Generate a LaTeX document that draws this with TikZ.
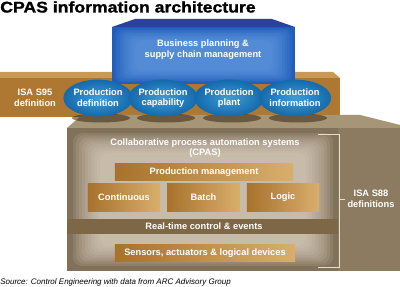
\documentclass[tikz,border=0pt]{standalone}
\usepackage{fontspec}
\setmainfont{Liberation Sans}
\newfontfamily\heavyfont[FakeStretch=1.14,FakeBold=1.3]{Liberation Sans}
\usepackage{xcolor}
\usepackage{tikz}
\usetikzlibrary{positioning,shapes.geometric}

\definecolor{bluetop}{HTML}{2C409E}
\definecolor{bluefront}{HTML}{1F5DBA}
\definecolor{blueglow}{HTML}{6FA4E6}
\definecolor{ellin}{HTML}{3F9BD6}
\definecolor{ellout}{HTML}{146AAC}
\definecolor{s95top}{HTML}{C99A55}
\definecolor{s95front}{HTML}{AE7832}
\definecolor{taupetop}{HTML}{A69576}
\definecolor{taupefront}{HTML}{8C7B61}
\definecolor{taupeglow}{HTML}{E2D8C8}
\definecolor{goldL}{HTML}{A8722C}
\definecolor{goldR}{HTML}{D9AE6C}
\definecolor{rtband}{HTML}{7E6747}
\definecolor{brkline}{HTML}{E6DECF}

\begin{document}
\begin{tikzpicture}[x=0.025cm,y=-0.025cm,
  lbl/.style={font=\fontsize{6.6}{7.6}\selectfont\bfseries,
    text=white,align=center,inner sep=0pt},
  ell/.style={ellipse,inner sep=0pt,minimum width=1.66cm,minimum height=0.92cm,
    inner color=ellin,outer color=ellout,lbl},
  bar/.style={left color=goldL,right color=goldR,inner sep=0pt,lbl},
  brk/.style={brkline,line width=0.6pt}
]
\useasboundingbox (0,0) rectangle (400,287);
\fill[white] (0,0) rectangle (400,287);

\node[anchor=base west,inner sep=0pt,font=\heavyfont\fontsize{11}{13}\selectfont\bfseries]
  (title) at (0,12.5) {CPAS information architecture};

% ISA S95 slab
\fill[s95top] (0,72) -- (333,72) -- (340,78) -- (0,78) -- cycle;
\fill[s95front] (0,78) rectangle (340,117);
\node[lbl] (s95) at (35,98) {ISA S95\\definition};

% business block
\fill[bluetop] (112,27) -- (135,19) -- (272,19) -- (295,27) -- cycle;
\fill[bluefront] (112,27) rectangle (295,84);
\foreach \i in {1,...,9}
  \fill[blueglow,opacity=0.12,rounded corners=5]
    (112+\i*2.6,27+\i*1.5) rectangle (295-\i*2.6,84-\i*1.5);
\node[lbl] (bus) at (203,49.5) {Business planning \&\\supply chain management};

% CPAS block
\fill[taupetop] (67,128) -- (82,115) -- (360,115) -- (400,125) -- (400,128) -- cycle;
\fill[taupefront] (67,128) rectangle (400,271);
\fill[taupefront!92!black] (67,128) rectangle (338,271);
\foreach \i in {1,...,10}
  \fill[taupeglow,opacity=0.13,rounded corners=6]
    (70+\i*3,131+\i*2.2) rectangle (336-\i*3,268-\i*2.2);
\fill[rtband] (67,219) rectangle (338,234);

% shadows and ellipses
\foreach \x in {98,163,229,295}
  \fill[black!70!brown,opacity=0.55] (\x+3,118) ellipse (29 and 4.5);
\node[ell] (pdef) at (98,98)  {Production\\definition};
\node[ell] (pcap) at (163,98) {Production\\capability};
\node[ell] (ppl)  at (229,98) {Production\\plant};
\node[ell] (pinf) at (295,98) {Production\\information};

\node[lbl] (cpas) at (205,148) {Collaborative process automation systems\\(CPAS)};
\node[bar,minimum width=4.45cm,minimum height=0.4cm] (pm) at (204,172) {Production management};
\node[bar,minimum width=1.8cm,minimum height=0.68cm] (cont)  at (124,197.5) {Continuous};
\node[bar,minimum width=1.82cm,minimum height=0.68cm] (batch) at (203.5,197.5) {Batch};
\node[bar,minimum width=1.8cm,minimum height=0.68cm] (logic) at (283,197.5) {Logic};
\node[lbl] (rt) at (204,226.5) {Real-time control \& events};
\node[bar,minimum width=4.5cm,minimum height=0.4cm] (sens) at (205,253) {Sensors, actuators \& logical devices};

% ISA S88 bracket
\coordinate (btop) at (318,134);
\coordinate (bbot) at (318,267);
\coordinate (bmid) at (339,199);
\draw[brk] (btop) -| (bbot -| bmid) -- (bbot);
\draw[brk] (bmid) -- ++(6,0);
\node[lbl] (s88) at (371,198.5) {ISA S88\\definitions};

\node[anchor=base west,inner sep=0pt,font=\fontsize{5.7}{7}\selectfont\itshape]
  (src) at (0,284) {Source: Control Engineering with data from ARC Advisory Group};
\end{tikzpicture}
\end{document}
